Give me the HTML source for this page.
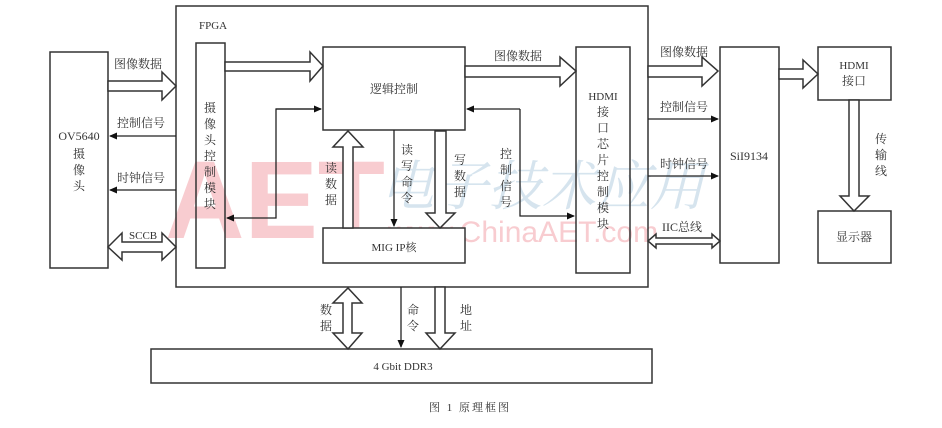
<!DOCTYPE html>
<html><head><meta charset="utf-8"><style>
html,body{margin:0;padding:0;background:#fff;}
svg{display:block;}
text{font-family:"Liberation Serif","Noto Serif CJK SC",serif;font-size:12px;fill:#333;}
</style></head><body>
<svg width="942" height="428" viewBox="0 0 942 428" xmlns="http://www.w3.org/2000/svg">
<defs>
<marker id="ah" markerWidth="8" markerHeight="8" refX="7" refY="4" orient="auto" markerUnits="userSpaceOnUse">
<path d="M0,0.5 L8,4 L0,7.5 z" fill="#111"/></marker>
</defs>
<!-- watermark -->
<text x="165" y="238" style="font-family:'Liberation Sans',sans-serif;font-size:110px;fill:#f8ccd0;font-weight:bold">AET</text>
<text x="380" y="205" style="font-family:'Noto Serif CJK SC',serif;font-size:54px;fill:#d6e4ee;font-style:italic">电子技术应用</text>
<text x="388" y="242" style="font-family:'Liberation Sans',sans-serif;font-size:30px;fill:#f8ccd0">www.ChinaAET.com</text>

<g fill="none" stroke="#333" stroke-width="1.5">
<rect x="50" y="52" width="58" height="216" fill="none"/>
<rect x="176" y="6" width="472" height="281"/>
<rect x="196" y="43" width="29" height="225"/>
<rect x="323" y="47" width="142" height="83" fill="#fff"/>
<rect x="323" y="228" width="142" height="35" fill="#fff"/>
<rect x="576" y="47" width="54" height="226"/>
<rect x="720" y="47" width="59" height="216"/>
<rect x="818" y="47" width="73" height="53"/>
<rect x="818" y="211" width="73" height="52"/>
<rect x="151" y="349" width="501" height="34"/>
</g>

<g fill="#fff" stroke="#333" stroke-width="1.5" stroke-linejoin="miter">
<polygon points="108,81 162,81 162,72 176,86 162,100 162,91 108,91"/>
<polygon points="225,62 310,62 310,52 323,66 310,81 310,71 225,71"/>
<polygon points="465,66 560,66 560,57 576,71 560,86 560,77 465,77"/>
<polygon points="648,66 702,66 702,57 718,71 702,86 702,77 648,77"/>
<polygon points="779,69 803,69 803,60 818,74 803,88 803,79 779,79"/>
<polygon points="849,100 859,100 859,196 869,196 854,211 840,196 849,196"/>
<polygon points="108,247 122,233 122,242 162,242 162,233 176,247 162,260 162,252 122,252 122,260"/>
<polygon points="648,241 656,234 656,238 712,238 712,234 720,241 712,248 712,244 656,244 656,248"/>
<polygon points="343,228 343,147 333,147 348,131 363,147 353,147 353,228"/>
<polygon points="435,131 446,131 446,213 455,213 440,228 426,213 435,213"/>
<polygon points="343,303 333,303 348,288 362,303 352,303 352,333 362,333 348,349 333,333 343,333"/>
<polygon points="435,287 445,287 445,333 455,333 440,349 426,333 435,333"/>
</g>

<g fill="none" stroke="#222" stroke-width="1.3">
<line x1="176" y1="136" x2="110" y2="136" marker-end="url(#ah)"/>
<line x1="176" y1="190" x2="110" y2="190" marker-end="url(#ah)"/>
<polyline points="321,109 276,109 276,218 227,218" marker-end="url(#ah)"/>
<line x1="276" y1="109" x2="321" y2="109" marker-end="url(#ah)"/>
<line x1="394" y1="130" x2="394" y2="226" marker-end="url(#ah)"/>
<polyline points="520,109 520,216 574,216" marker-end="url(#ah)"/>
<line x1="520" y1="109" x2="467" y2="109" marker-end="url(#ah)"/>
<line x1="648" y1="119" x2="718" y2="119" marker-end="url(#ah)"/>
<line x1="648" y1="176" x2="718" y2="176" marker-end="url(#ah)"/>
<line x1="401" y1="287" x2="401" y2="347" marker-end="url(#ah)"/>
</g>

<text x="114" y="68">图像数据</text>
<text x="117" y="127">控制信号</text>
<text x="117" y="182">时钟信号</text>
<text x="129" y="239" style="font-size:11px">SCCB</text>
<text x="79" y="140" text-anchor="middle">OV5640</text>
<text x="79" y="158" text-anchor="middle">摄</text>
<text x="79" y="174" text-anchor="middle">像</text>
<text x="79" y="190" text-anchor="middle">头</text>
<text x="199" y="29" style="font-size:11px">FPGA</text>
<g text-anchor="middle">
<text x="210" y="112">摄</text><text x="210" y="128">像</text><text x="210" y="144">头</text><text x="210" y="160">控</text><text x="210" y="176">制</text><text x="210" y="192">模</text><text x="210" y="208">块</text>
<text x="394" y="93">逻辑控制</text>
<text x="394" y="251" style="font-size:11px">MIG IP核</text>
<text x="331" y="172">读</text><text x="331" y="188">数</text><text x="331" y="204">据</text>
<text x="407" y="154">读</text><text x="407" y="170">写</text><text x="407" y="186">命</text><text x="407" y="202">令</text>
<text x="460" y="164">写</text><text x="460" y="180">数</text><text x="460" y="196">据</text>
<text x="506" y="158">控</text><text x="506" y="174">制</text><text x="506" y="190">信</text><text x="506" y="206">号</text>
<text x="603" y="100" style="font-size:11px">HDMI</text>
<text x="603" y="116">接</text><text x="603" y="132">口</text><text x="603" y="148">芯</text><text x="603" y="164">片</text><text x="603" y="180">控</text><text x="603" y="196">制</text><text x="603" y="212">模</text><text x="603" y="228">块</text>
<text x="749" y="160">SiI9134</text>
<text x="854" y="69" style="font-size:11px">HDMI</text>
<text x="854" y="85">接口</text>
<text x="854" y="241">显示器</text>
<text x="881" y="143">传</text><text x="881" y="159">输</text><text x="881" y="175">线</text>
<text x="326" y="314">数</text><text x="326" y="330">据</text>
<text x="413" y="314">命</text><text x="413" y="330">令</text>
<text x="466" y="314">地</text><text x="466" y="330">址</text>
<text x="403" y="370" style="font-size:11px">4 Gbit DDR3</text>
<text x="470" y="411" style="font-size:11px;letter-spacing:2px">图 1  原理框图</text>
</g>
<text x="494" y="60">图像数据</text>
<text x="660" y="56">图像数据</text>
<text x="660" y="111">控制信号</text>
<text x="660" y="168">时钟信号</text>
<text x="662" y="231">IIC总线</text>
</svg>
</body></html>
